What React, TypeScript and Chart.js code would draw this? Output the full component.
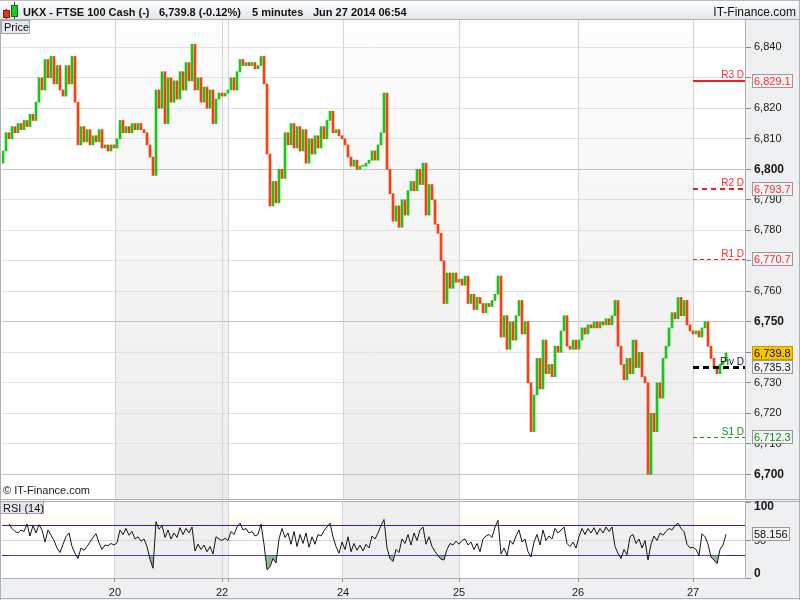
import React, { useEffect, useRef } from 'react';
import { Chart, registerables } from 'chart.js';

Chart.register(...registerables);

// ---------------- data ----------------
const firstOpen = 6802;
const closes: number[] = [
  6806, 6812, 6810, 6814, 6812, 6815, 6813, 6816, 6814, 6818,
  6816, 6822, 6830, 6826, 6836, 6830, 6837, 6828, 6834, 6826,
  6824, 6834, 6828, 6837, 6822, 6808, 6814, 6809, 6813, 6808,
  6811, 6809, 6813, 6807, 6808, 6806, 6808, 6807, 6810, 6816,
  6812, 6814, 6812, 6815, 6813, 6815, 6813, 6812, 6808, 6804,
  6798, 6826, 6820, 6832, 6815, 6830, 6822, 6829, 6823, 6832,
  6826, 6835, 6829, 6841, 6826, 6830, 6822, 6827, 6820, 6826,
  6815, 6823, 6825, 6824, 6825, 6826, 6830, 6826, 6832, 6836,
  6834, 6835, 6834, 6835, 6833, 6834, 6837, 6828, 6805, 6788,
  6796, 6789, 6800, 6797, 6812, 6808, 6815, 6807, 6814, 6806,
  6813, 6802, 6810, 6805, 6811, 6807, 6814, 6810, 6816, 6819,
  6812, 6813, 6811, 6810, 6808, 6804, 6801, 6803, 6800, 6801,
  6801, 6802, 6803, 6806, 6803, 6808, 6812, 6825, 6800, 6792,
  6783, 6788, 6781, 6790, 6785, 6793, 6796, 6793, 6800, 6795,
  6802, 6785, 6795, 6790, 6782, 6779, 6770, 6756, 6766, 6761,
  6766, 6763, 6764, 6762, 6765, 6756, 6759, 6754, 6758, 6756,
  6753, 6756, 6755, 6757, 6759, 6765, 6745, 6752, 6741, 6750,
  6744, 6752, 6757, 6746, 6750, 6730, 6714, 6726, 6738, 6728,
  6744, 6733, 6736, 6732, 6742, 6740, 6747, 6752, 6742, 6741,
  6744, 6741, 6744, 6748, 6746, 6749, 6748, 6750, 6748, 6750,
  6749, 6751, 6749, 6752, 6757, 6742, 6736, 6731, 6738, 6733,
  6744, 6735, 6740, 6732, 6730, 6700, 6720, 6714, 6730, 6725,
  6738, 6742, 6748, 6753, 6751, 6758, 6752, 6757, 6749, 6747,
  6746, 6747, 6745, 6748, 6750, 6742, 6738, 6735, 6733, 6736,
  6737, 6739.8,
];
const rsiValues: (number | null)[] = [
  null, null, 72, 66, 62, 60, 64, 62, 72, 56,
  70, 60, 71, 64, 48, 64, 57, 50, 40, 34,
  45, 55, 60, 42, 33, 26, 40, 37, 42, 48,
  54, 59, 47, 38, 44, 43, 46, 44, 47, 64,
  58, 66, 57, 62, 52, 55, 49, 52, 42, 25,
  13, 75, 65, 70, 54, 64, 52, 60, 54, 67,
  58, 66, 60, 68, 36, 45, 38, 44, 35, 42,
  32, 55, 52, 50, 53, 50, 62, 58, 68, 73,
  64, 66, 60, 62, 56, 58, 72, 45, 11, 15,
  26, 20, 52, 66, 54, 60, 45, 62, 42, 58,
  46, 60, 41, 55, 45, 58, 56, 63, 68, 73,
  55, 42, 33, 48, 38, 55, 35, 46, 37, 44,
  36, 45, 40, 56, 52, 60, 70, 78, 40, 26,
  22, 38, 34, 52, 46, 58, 44, 60, 50, 64,
  68, 45, 55, 42, 35, 30, 25, 24, 38, 46,
  44, 49, 45, 50, 52, 44, 48, 38, 46, 35,
  52, 56, 58, 54, 68, 77, 32, 40, 30, 50,
  45, 56, 64, 48, 52, 35, 28, 48, 58, 44,
  64, 50, 56, 52, 66, 60, 64, 68, 46, 42,
  48, 40, 55, 66, 58, 66, 60, 67, 58, 66,
  60, 68, 62, 68, 42, 33, 26, 38, 31, 55,
  58, 46, 52, 40, 50, 24, 45, 56, 50, 60,
  57, 62, 66, 64, 70, 73, 66, 62, 45, 40,
  41, 38, 30, 59, 55, 45, 28, 24, 19, 38,
  44, 58.156,
];
const dayTickIndex = [37.33, 73, 75, 113.33, 152, 191.67, 230];
const dayTickLabels = ['20', '22', '', '24', '25', '26', '27'];
const shadedFrom = [37.33, 113.33, 191.67];
const shadedTo = [75, 152, 230];
const pivotNames = ['R3 D', 'R2 D', 'R1 D', 'Piv D', 'S1 D'];
const pivotValues = [6829.1, 6793.7, 6770.7, 6735.3, 6712.3];
const lastPrice = 6739.8;
const lastRsi = 58.156;
const priceTicks = [6700, 6710, 6720, 6730, 6740, 6750, 6760, 6770, 6780, 6790, 6800, 6810, 6820, 6830, 6840];
const rsiTicks = [0, 50, 100];
const rsiBands = [30, 70];
const headerTexts = ['UKX - FTSE 100 Cash (-)', '6,739.8 (-0.12%)', '5 minutes', 'Jun 27 2014 06:54'];
const siteName = 'IT-Finance.com';

// ---------------- axis ranges & styles ----------------
const X_MIN = -1 / 3;
const X_MAX = 247.33;
const PRICE_MIN = 6691.9;
const PRICE_MAX = 6848.95;
const RSI_MIN = 0;
const RSI_MAX = 101.3;

const FONT = 'Arial, "Liberation Sans", Helvetica, sans-serif';
const GREEN = '#14c814';
const RED = '#ff3c10';
const AXIS_BG = '#eff0f2';
const FRAME = '#adb1b5';
const BAND = '#2424c8';

const pivotStyles = [
  { color: '#ff1a1a', text: '#ff2a2a', width: 2, dash: [] as number[] },
  { color: '#ff1a1a', text: '#ff2a2a', width: 2, dash: [5, 4] },
  { color: '#ff1a1a', text: '#ff2a2a', width: 1, dash: [4, 3] },
  { color: '#000000', text: '#111122', width: 3, dash: [6, 4] },
  { color: '#12a012', text: '#129012', width: 1, dash: [4, 3] },
];

const fmt0 = (v: number) => v.toLocaleString('en-US');
const fmt1 = (v: number) => v.toLocaleString('en-US', { minimumFractionDigits: 1, maximumFractionDigits: 1 });

// tick labels hidden behind the value boxes of the axis
const boxValues = [...pivotValues, lastPrice];
const coveredTick = (v: number) => boxValues.some((b) => Math.abs(b - v) < 1.5);

function valueBox(ctx: CanvasRenderingContext2D, left: number, yc: number, text: string, bg: string, fg: string, border: string) {
  ctx.font = `11px ${FONT}`;
  const w = Math.ceil(ctx.measureText(text).width) + 4;
  const top = Math.round(yc - 7);
  ctx.fillStyle = bg;
  ctx.fillRect(left, top, w, 14);
  ctx.strokeStyle = border;
  ctx.lineWidth = 1;
  ctx.setLineDash([]);
  ctx.strokeRect(left + 0.5, top + 0.5, w - 1, 13);
  ctx.fillStyle = fg;
  ctx.textAlign = 'left';
  ctx.textBaseline = 'middle';
  ctx.fillText(text, left + 2, top + 7.5);
}

function hLine(ctx: CanvasRenderingContext2D, x0: number, x1: number, y: number, color: string) {
  ctx.strokeStyle = color;
  ctx.lineWidth = 1;
  ctx.setLineDash([]);
  ctx.beginPath();
  ctx.moveTo(x0, y);
  ctx.lineTo(x1, y);
  ctx.stroke();
}
function vLine(ctx: CanvasRenderingContext2D, x: number, y0: number, y1: number, color: string) {
  ctx.strokeStyle = color;
  ctx.lineWidth = 1;
  ctx.setLineDash([]);
  ctx.beginPath();
  ctx.moveTo(x, y0);
  ctx.lineTo(x, y1);
  ctx.stroke();
}

// ---------------- price chart ----------------
const pricePlugin = {
  id: 'pricePanel',
  beforeDraw(chart: any) {
    const { ctx, chartArea: a } = chart;
    const x = chart.scales.x;
    ctx.save();
    ctx.fillStyle = '#ffffff';
    ctx.fillRect(0, 0, chart.width, chart.height);
    ctx.fillStyle = AXIS_BG;
    ctx.fillRect(a.right, a.top, chart.width - a.right, chart.height - a.top);
    const g = ctx.createLinearGradient(0, a.top, 0, a.bottom);
    g.addColorStop(0, '#fdfdfd');
    g.addColorStop(1, '#ececec');
    ctx.fillStyle = g;
    shadedFrom.forEach((s, k) => {
      const x0 = Math.round(x.getPixelForValue(s));
      const x1 = Math.round(x.getPixelForValue(shadedTo[k]));
      ctx.fillRect(x0, a.top, x1 - x0, a.bottom - a.top);
    });
    ctx.restore();
  },
  beforeDatasetsDraw(chart: any) {
    const { ctx, chartArea: a } = chart;
    const x = chart.scales.x;
    ctx.save();
    dayTickIndex.forEach((d) => {
      vLine(ctx, Math.round(x.getPixelForValue(d)) + 0.5, a.top, a.bottom, '#d4d4d4');
    });
    ctx.restore();
  },
  afterDatasetsDraw(chart: any) {
    const { ctx, chartArea: a } = chart;
    const x = chart.scales.x;
    const y = chart.scales.y;
    ctx.save();
    const xs = Math.round(x.getPixelForValue(dayTickIndex[dayTickIndex.length - 1]));
    pivotValues.forEach((v, k) => {
      const st = pivotStyles[k];
      const py = Math.round(y.getPixelForValue(v)) + (st.width % 2 ? 0.5 : 0);
      ctx.strokeStyle = st.color;
      ctx.lineWidth = st.width;
      ctx.setLineDash(st.dash);
      ctx.beginPath();
      ctx.moveTo(xs, py);
      ctx.lineTo(a.right, py);
      ctx.stroke();
      ctx.setLineDash([]);
      ctx.font = `10px ${FONT}`;
      ctx.fillStyle = st.text;
      ctx.textAlign = 'right';
      ctx.textBaseline = 'alphabetic';
      ctx.fillText(pivotNames[k], a.right - 1, py - 3);
    });
    ctx.restore();
  },
  afterDraw(chart: any) {
    const { ctx, chartArea: a } = chart;
    const y = chart.scales.y;
    ctx.save();
    // header
    const hg = ctx.createLinearGradient(0, 0, 0, 20);
    hg.addColorStop(0, '#ffffff');
    hg.addColorStop(1, '#e2e6ea');
    ctx.fillStyle = hg;
    ctx.fillRect(0, 0, chart.width, 20);
    hLine(ctx, 0, chart.width, 0.5, '#b8bcc0');
    hLine(ctx, 0, chart.width, 19.5, FRAME);
    // icon
    vLine(ctx, 6.5, 9, 19, '#7a1010');
    ctx.fillStyle = '#e8301c';
    ctx.fillRect(4, 11, 5, 6);
    ctx.strokeStyle = '#8a1a10';
    ctx.strokeRect(3.5, 10.5, 6, 7);
    vLine(ctx, 14.5, 2, 19, '#0c6a0c');
    ctx.fillStyle = '#1ccc1c';
    ctx.fillRect(12, 6, 5, 10);
    ctx.strokeStyle = '#0c6a0c';
    ctx.strokeRect(11.5, 5.5, 6, 11);
    // header texts
    ctx.fillStyle = '#111111';
    ctx.font = `bold 11px ${FONT}`;
    ctx.textAlign = 'left';
    ctx.textBaseline = 'alphabetic';
    const hx = [23, 159, 252, 313];
    headerTexts.forEach((t, k) => ctx.fillText(t, hx[k], 16));
    ctx.font = `12px ${FONT}`;
    ctx.textAlign = 'right';
    ctx.fillText(siteName, 796, 16);
    // Price tag
    ctx.fillStyle = '#e6e8ec';
    ctx.fillRect(1, 20, 29, 14);
    ctx.strokeStyle = '#a2a6aa';
    ctx.strokeRect(1.5, 20.5, 28, 13);
    ctx.fillStyle = '#111111';
    ctx.font = `11px ${FONT}`;
    ctx.textAlign = 'left';
    ctx.fillText('Price', 4, 31);
    // copyright
    ctx.fillStyle = '#1a1a1a';
    ctx.fillText('\u00a9 ' + siteName, 3, 494);
    // frame
    hLine(ctx, 0, chart.width, a.bottom + 0.5, FRAME);
    vLine(ctx, 0.5, a.top, chart.height, FRAME);
    vLine(ctx, chart.width - 0.5, 0, chart.height, FRAME);
    // axis value boxes
    pivotValues.forEach((v, k) => {
      const st = pivotStyles[k];
      valueBox(ctx, 752, y.getPixelForValue(v), fmt1(v), '#f3f3f3', st.text === '#111122' ? '#111111' : st.text, '#9a9a9a');
    });
    valueBox(ctx, 752, y.getPixelForValue(lastPrice), fmt1(lastPrice), '#f6c400', '#111111', '#c99a00');
    ctx.restore();
  },
};

function priceConfig(): any {
  const opens = closes.map((c, i) => (i === 0 ? firstOpen : closes[i - 1]));
  return {
    type: 'bar',
    data: {
      datasets: [
        {
          data: closes.map((c, i) => ({ x: i, y: [opens[i], c] })),
          backgroundColor: closes.map((c, i) => (c >= opens[i] ? GREEN : RED)),
          borderWidth: 0,
          barThickness: 2,
          minBarLength: 1,
        },
      ],
    },
    options: {
      responsive: false,
      animation: false,
      devicePixelRatio: 1,
      layout: { padding: { top: 20, left: 2, right: 0, bottom: 1 } },
      plugins: { legend: { display: false }, tooltip: { enabled: false } },
      scales: {
        x: { type: 'linear', display: false, min: X_MIN, max: X_MAX, offset: false },
        y: {
          position: 'right',
          min: PRICE_MIN,
          max: PRICE_MAX,
          afterBuildTicks: (s: any) => {
            s.ticks = priceTicks.map((v) => ({ value: v }));
          },
          afterFit: (s: any) => {
            s.width = 55;
            s.paddingTop = 0;
            s.paddingBottom = 0;
          },
          grid: {
            color: (c: any) => (c.tick && c.tick.value % 50 === 0 ? '#c4c4c4' : '#e2e2e2'),
            tickLength: 6,
            tickColor: '#8a8a8a',
          },
          border: { display: true, color: FRAME },
          ticks: {
            padding: 3,
            color: '#1a1a1a',
            font: (c: any) => {
              const b = c.tick && c.tick.value % 50 === 0;
              return { family: FONT, size: b ? 12 : 11, weight: b ? 'bold' : 'normal' };
            },
            callback: (v: any) => (coveredTick(Number(v)) ? '' : fmt0(Number(v))),
          },
        },
      },
    },
    plugins: [pricePlugin],
  };
}

// ---------------- RSI chart ----------------
const rsiPlugin = {
  id: 'rsiPanel',
  beforeDraw(chart: any) {
    const { ctx, chartArea: a } = chart;
    const x = chart.scales.x;
    ctx.save();
    ctx.fillStyle = '#ffffff';
    ctx.fillRect(0, 0, chart.width, chart.height);
    ctx.fillStyle = AXIS_BG;
    ctx.fillRect(a.right, 0, chart.width - a.right, chart.height);
    ctx.fillRect(0, a.bottom, chart.width, chart.height - a.bottom);
    ctx.fillStyle = '#efefef';
    shadedFrom.forEach((s, k) => {
      const x0 = Math.round(x.getPixelForValue(s));
      const x1 = Math.round(x.getPixelForValue(shadedTo[k]));
      ctx.fillRect(x0, a.top, x1 - x0, a.bottom - a.top);
    });
    ctx.restore();
  },
  beforeDatasetsDraw(chart: any) {
    const { ctx, chartArea: a } = chart;
    const y = chart.scales.y;
    ctx.save();
    rsiBands.forEach((b) => hLine(ctx, a.left, a.right, Math.round(y.getPixelForValue(b)) + 0.5, BAND));
    ctx.restore();
  },
  afterDraw(chart: any) {
    const { ctx, chartArea: a } = chart;
    const y = chart.scales.y;
    ctx.save();
    hLine(ctx, 0, chart.width, 1.5, FRAME);
    hLine(ctx, 0, chart.width, chart.height - 1.5, FRAME);
    vLine(ctx, 0.5, 0, chart.height, FRAME);
    vLine(ctx, chart.width - 0.5, 0, chart.height, FRAME);
    // y tick labels, kept inside the panel
    ctx.fillStyle = '#1a1a1a';
    ctx.textAlign = 'left';
    ctx.textBaseline = 'middle';
    rsiTicks.forEach((t) => {
      const b = t !== 50;
      ctx.font = `${b ? 'bold ' : ''}${b ? 12 : 11}px ${FONT}`;
      const py = Math.min(Math.max(y.getPixelForValue(t), a.top + 5), a.bottom - 4);
      ctx.fillText(String(t), a.right + 9, py);
    });
    // RSI tag
    ctx.fillStyle = '#e6e8ec';
    ctx.fillRect(1, 2, 42, 12);
    ctx.strokeStyle = '#a2a6aa';
    ctx.strokeRect(0.5, 1.5, 43, 12);
    ctx.fillStyle = '#111111';
    ctx.font = `11px ${FONT}`;
    ctx.textAlign = 'left';
    ctx.textBaseline = 'alphabetic';
    ctx.fillText('RSI (14)', 3, 11.5);
    valueBox(ctx, 752, y.getPixelForValue(lastRsi), String(lastRsi), '#f3f3f3', '#111111', '#9a9a9a');
    ctx.restore();
  },
};

function rsiConfig(): any {
  return {
    type: 'line',
    data: {
      datasets: [
        {
          data: rsiValues.map((v, i) => ({ x: i, y: v })),
          borderColor: '#151515',
          borderWidth: 1,
          pointRadius: 0,
          tension: 0,
          spanGaps: false,
          fill: { target: { value: rsiBands[0] }, above: 'rgba(0,0,0,0)', below: '#8fbc8f' },
        },
      ],
    },
    options: {
      responsive: false,
      animation: false,
      devicePixelRatio: 1,
      layout: { padding: { top: 2, left: 2, right: 0, bottom: 0 } },
      plugins: { legend: { display: false }, tooltip: { enabled: false } },
      scales: {
        x: {
          type: 'linear',
          min: X_MIN,
          max: X_MAX,
          afterBuildTicks: (s: any) => {
            s.ticks = dayTickIndex.map((v) => ({ value: v }));
          },
          afterFit: (s: any) => {
            s.height = 22;
            s.paddingLeft = 0;
            s.paddingRight = 0;
          },
          grid: { color: '#d4d4d4', tickLength: 4, tickColor: '#9a9a9a' },
          border: { display: true, color: FRAME },
          ticks: {
            autoSkip: false,
            maxRotation: 0,
            minRotation: 0,
            padding: 4,
            color: '#1a1a1a',
            font: { family: FONT, size: 11 },
            callback: (_v: any, idx: number) => dayTickLabels[idx] ?? '',
          },
        },
        y: {
          position: 'right',
          min: RSI_MIN,
          max: RSI_MAX,
          afterBuildTicks: (s: any) => {
            s.ticks = rsiTicks.map((v) => ({ value: v }));
          },
          afterFit: (s: any) => {
            s.width = 55;
            s.paddingTop = 0;
            s.paddingBottom = 0;
          },
          grid: {
            color: (c: any) => (c.tick && c.tick.value === 50 ? '#d8d8d8' : 'rgba(0,0,0,0)'),
            tickLength: 6,
            tickColor: '#8a8a8a',
          },
          border: { display: true, color: FRAME },
          ticks: { display: false },
        },
      },
    },
    plugins: [rsiPlugin],
  };
}

export default function App() {
  const priceRef = useRef<HTMLCanvasElement>(null);
  const rsiRef = useRef<HTMLCanvasElement>(null);
  useEffect(() => {
    const c1 = new Chart(priceRef.current as HTMLCanvasElement, priceConfig());
    const c2 = new Chart(rsiRef.current as HTMLCanvasElement, rsiConfig());
    return () => {
      c1.destroy();
      c2.destroy();
    };
  }, []);
  return (
    <div style={{ position: 'absolute', left: 0, top: 0, width: 800, height: 600, background: '#fff' }}>
      <canvas ref={priceRef} width={800} height={500} style={{ position: 'absolute', left: 0, top: 0, width: 800, height: 500 }} />
      <canvas ref={rsiRef} width={800} height={100} style={{ position: 'absolute', left: 0, top: 500, width: 800, height: 100 }} />
    </div>
  );
}
